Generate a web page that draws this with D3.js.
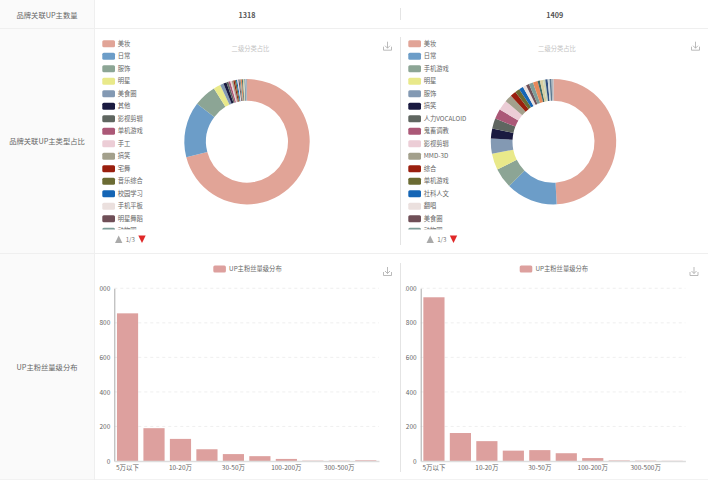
<!DOCTYPE html>
<html><head><meta charset="utf-8">
<script src="https://cdn.jsdelivr.net/npm/d3@7/dist/d3.min.js"></script>
<style>html,body{margin:0;padding:0;background:#fff;overflow:hidden}svg{display:block}text{font-family:"Noto Sans CJK SC","Noto Sans",sans-serif}</style>
</head><body><svg id="c" width="708" height="480"></svg>
<script>
const rowLabels=["品牌关联UP主数量","品牌关联UP主类型占比","UP主粉丝量级分布"];
const upCounts=["1318","1409"];
const pieTitle="二级分类占比";
const barTitle="UP主粉丝量级分布";
const pageLabel="1/3";
const palette=["#e1a497","#6c9dc8","#8ca595","#e9e98a","#8399b3","#1a1a40","#5f6660","#ab5877","#eccdd6","#a3a08c","#9a1f0e","#6b6b33","#1565b5","#ebe0de","#6f4f57","#7f9e99","#e8895a","#3f6a66","#d8cfa0","#c9d4b8","#2f4f7f","#cfd8dc","#5f7a90","#b0b8c0"];
const leftNames=["美妆","日常","服饰","明星","美食圈","其他","影视剪辑","单机游戏","手工","搞笑","宅舞","音乐综合","校园学习","手机平板","明星舞蹈","动物圈","绘画","综合","翻唱","社科人文","运动","汽车","数码","时尚"];
const leftValues=[70.7,14.3,5.8,1.8,0.9,0.8,0.5,0.5,0.4,0.4,0.35,0.35,0.3,0.3,0.3,0.3,0.3,0.25,0.25,0.2,0.2,0.15,0.15,0.1];
const rightNames=["美妆","日常","手机游戏","明星","服饰","搞笑","人力VOCALOID","鬼畜调教","影视剪辑","MMD-3D","综合","单机游戏","社科人文","翻唱","美食圈","动物圈","绘画","手工","宅舞","校园学习","运动","汽车","数码","其他"];
const rightValues=[49.2,13.3,5.2,4.2,3.9,2.6,2.6,2.6,2.6,1.9,1.5,1.2,1.1,0.9,0.8,1.1,1.2,0.6,0.8,0.6,0.6,0.5,0.5,0.5];
const tiers=["5万以下","5-10万","10-20万","20-30万","30-50万","50-100万","100-200万","200-300万","300-500万","500万以上"];
const leftBars=[855,190,128,68,40,28,12,2,2,4];
const rightBars=[948,162,115,60,63,45,17,3,2,1];
const yTicks=[0,200,400,600,800,1000];

const svg=d3.select("#c");
const defs=svg.append("defs");
svg.append("rect").attr("x",0).attr("y",0).attr("width",94).attr("height",480).attr("fill","#fafafa");
[28,253].forEach(y=>svg.append("line").attr("x1",0).attr("x2",708).attr("y1",y+.5).attr("y2",y+.5).attr("stroke","#efefef"));
svg.append("line").attr("x1",0).attr("x2",708).attr("y1",479.5).attr("y2",479.5).attr("stroke","#f2f2f2");
svg.append("line").attr("x1",94.5).attr("x2",94.5).attr("y1",0).attr("y2",480).attr("stroke","#efefef");
[[8,20],[37,245],[263,472]].forEach(([a,b])=>svg.append("line").attr("x1",400.5).attr("x2",400.5).attr("y1",a).attr("y2",b).attr("stroke","#e4e4e4"));
[[47,15],[47,141],[47,367]].forEach(([x,y],i)=>svg.append("text").attr("x",x).attr("y",y).attr("dy","0.35em").attr("text-anchor","middle").attr("font-size",7.3).attr("fill","#666").text(rowLabels[i]));
[[247,upCounts[0]],[554.7,upCounts[1]]].forEach(([x,t])=>svg.append("text").attr("x",x).attr("y",15).attr("dy","0.35em").attr("text-anchor","middle").attr("font-size",7.2).attr("font-weight",700).attr("fill","#555").text(t));

function dl(x,y){const g=svg.append("g").attr("transform",`translate(${x},${y})`).attr("fill","none").attr("stroke","#aaa").attr("stroke-width",.8);
 g.append("path").attr("d","M0.5 5V8.5H8.5V5M4.5 0V6.5M2 4L4.5 6.5L7 4");}

function pieBlock(id,x0,cx,names,values,pgOff,iconX){
 const cy=141.7;
 const pie=d3.pie().sort(null).value(d=>d)(values);
 const arc=d3.arc().innerRadius(41).outerRadius(62.7);
 const g=svg.append("g").attr("transform",`translate(${cx},${cy})`);
 g.selectAll("path").data(pie).join("path").attr("d",arc).attr("fill",(d,i)=>palette[i]);
 svg.append("text").attr("x",cx+3.5).attr("y",48.3).attr("dy","0.35em").attr("text-anchor","middle").attr("font-size",6.3).attr("fill","#c4c4c4").text(pieTitle);
 defs.append("clipPath").attr("id","lg"+id).append("rect").attr("x",x0).attr("y",38).attr("width",80).attr("height",191.5);
 const lg=svg.append("g").attr("clip-path",`url(#lg${id})`);
 const step=d3.scaleLinear().domain([0,1]).range([43.7,56.2]);
 names.slice(0,16).forEach((n,i)=>{
  const y=step(i);
  lg.append("rect").attr("x",x0+7.3).attr("y",y-3.5).attr("width",12.7).attr("height",7).attr("rx",1.5).attr("fill",palette[i]);
  lg.append("text").attr("x",x0+22.7).attr("y",y).attr("dy","0.35em").attr("font-size",6.3).attr("fill","#666").text(n);
 });
 svg.append("path").attr("d",`M${x0+20+pgOff} 243h7.4l-3.7-7.4z`).attr("fill","#aaa");
 svg.append("path").attr("d",`M${x0+43.3+pgOff} 235.6h7.4l-3.7 7.4z`).attr("fill","#e02828");
 svg.append("text").attr("x",x0+35.3+pgOff).attr("y",240.3).attr("dy","0.35em").attr("text-anchor","middle").attr("font-size",6.2).attr("fill","#777").text(pageLabel);
 dl(iconX,41.7);
}
pieBlock("a",95,247,leftNames,leftValues,0,383);
pieBlock("b",401,553.5,rightNames,rightValues,5.5,691);

function barBlock(id,axisX,vals,iconX){
 const rightX=axisX+264.7;
 const y=d3.scaleLinear().domain([0,1000]).range([461,288.3]);
 const x=d3.scaleBand().domain(tiers).range([axisX,rightX]).paddingInner(.2).paddingOuter(.1);
 defs.append("clipPath").attr("id","bc"+id).append("rect").attr("x",axisX-15.3).attr("y",255).attr("width",300).attr("height",224);
 const g=svg.append("g").attr("clip-path",`url(#bc${id})`);
 yTicks.slice(1).forEach(t=>g.append("line").attr("x1",axisX).attr("x2",rightX).attr("y1",y(t)).attr("y2",y(t)).attr("stroke","#e8e8e8").attr("stroke-width",.7).attr("stroke-dasharray","3 3"));
 g.selectAll("rect.b").data(vals).join("rect").attr("class","b").attr("x",(d,i)=>x(tiers[i])).attr("y",d=>y(d)).attr("width",x.bandwidth()).attr("height",d=>y(0)-y(d)).attr("fill","#dda09e");
 const ax=d3.axisLeft(y).tickValues(yTicks).tickFormat(d3.format("d")).tickSize(0).tickPadding(4);
 const ga=g.append("g").attr("transform",`translate(${axisX},0)`).call(ax);
 ga.select(".domain").attr("stroke","#aaa");
 ga.selectAll("text").attr("font-size",6.5).attr("fill","#666").style("font-family",'"Noto Sans CJK SC",sans-serif');
 const bx=d3.axisBottom(x).tickSize(0).tickPadding(4).tickValues(tiers.filter((c,i)=>i%2==0));
 const gb=g.append("g").attr("transform","translate(0,461)").call(bx);
 gb.select(".domain").attr("stroke","#ddd").attr("stroke-width",1.5);
 gb.selectAll("text").attr("font-size",6.5).attr("fill","#666").style("font-family",'"Noto Sans CJK SC",sans-serif');
 const lx=axisX+132.4;
 g.append("rect").attr("x",lx-33.4).attr("y",265.5).attr("width",12.6).attr("height",7).attr("rx",1.5).attr("fill","#dda09e");
 g.append("text").attr("x",lx-17.6).attr("y",269).attr("dy","0.35em").attr("font-size",6.3).attr("fill","#666").text(barTitle);
 dl(iconX,267);
}
barBlock("a",114.3,leftBars,383);
barBlock("b",420.7,rightBars,689.5);
</script></body></html>
